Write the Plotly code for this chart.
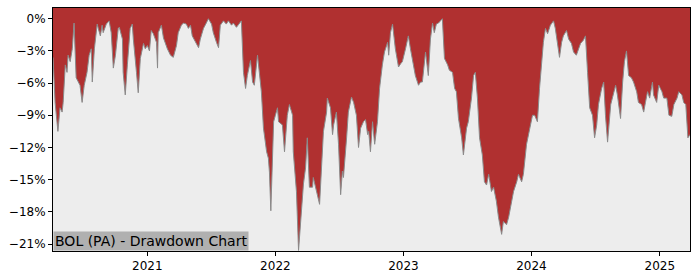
import plotly.graph_objects as go

dates = [
    "2020-04-07","2020-04-13","2020-04-21","2020-04-27","2020-05-03","2020-05-06","2020-05-12","2020-05-17",
    "2020-05-20","2020-05-26","2020-06-01","2020-06-06","2020-06-12","2020-06-18","2020-06-23","2020-06-29",
    "2020-07-05","2020-07-13","2020-07-19","2020-07-25","2020-07-28","2020-08-03","2020-08-11","2020-08-14",
    "2020-08-20","2020-08-25","2020-08-28","2020-09-06","2020-09-14","2020-09-20","2020-09-26","2020-10-02",
    "2020-10-10","2020-10-13","2020-10-22","2020-10-24","2020-10-30","2020-11-05","2020-11-13","2020-11-19",
    "2020-11-22","2020-12-01","2020-12-06","2020-12-12","2020-12-21","2020-12-26",
    "2021-01-01","2021-01-07","2021-01-12","2021-01-18","2021-01-27","2021-01-30","2021-02-01","2021-02-10",
    "2021-02-16","2021-02-27","2021-03-08","2021-03-16","2021-03-25","2021-03-30","2021-04-08","2021-04-14",
    "2021-04-22","2021-04-28","2021-05-04","2021-05-09","2021-05-18","2021-05-27","2021-06-01","2021-06-10",
    "2021-06-18","2021-06-24","2021-07-03","2021-07-08","2021-07-17","2021-07-23","2021-07-28","2021-08-06",
    "2021-08-14","2021-08-20","2021-08-29","2021-09-03","2021-09-12","2021-09-18","2021-09-26","2021-10-02",
    "2021-10-08","2021-10-13","2021-10-22","2021-10-28","2021-11-02","2021-11-11","2021-11-17","2021-11-22",
    "2021-11-28","2021-12-07","2021-12-12","2021-12-15","2021-12-19","2021-12-24","2021-12-27",
    "2022-01-01","2022-01-07","2022-01-10","2022-01-21","2022-01-27","2022-02-04","2022-02-10","2022-02-19",
    "2022-02-21","2022-03-02","2022-03-08","2022-03-16","2022-03-22","2022-03-28","2022-04-02","2022-04-08",
    "2022-04-17","2022-04-19","2022-04-28","2022-05-07","2022-05-12","2022-05-18","2022-05-27","2022-05-29",
    "2022-06-07","2022-06-13","2022-06-16","2022-06-24","2022-06-30","2022-07-06","2022-07-11","2022-07-14",
    "2022-07-23","2022-07-28","2022-08-06","2022-08-12","2022-08-20","2022-08-26","2022-09-01","2022-09-09",
    "2022-09-15","2022-09-21","2022-09-24","2022-09-29","2022-10-05","2022-10-11","2022-10-19","2022-10-25",
    "2022-11-02","2022-11-08","2022-11-17","2022-11-20","2022-11-25","2022-12-01","2022-12-09","2022-12-18",
    "2022-12-24","2022-12-29",
    "2023-01-07","2023-01-15","2023-01-21","2023-01-27","2023-02-04","2023-02-13","2023-02-19","2023-02-24",
    "2023-03-05","2023-03-13","2023-03-19","2023-03-25","2023-03-30","2023-04-05","2023-04-11","2023-04-22",
    "2023-04-28","2023-05-07","2023-05-12","2023-05-21","2023-05-27","2023-06-01","2023-06-07","2023-06-16",
    "2023-06-21","2023-06-30","2023-07-05","2023-07-14","2023-07-20","2023-07-25","2023-07-31","2023-08-06",
    "2023-08-14","2023-08-20","2023-08-26","2023-09-01","2023-09-09","2023-09-15","2023-09-23","2023-09-29",
    "2023-10-08","2023-10-13","2023-10-22","2023-10-28","2023-11-05","2023-11-11","2023-11-20","2023-11-25",
    "2023-12-04","2023-12-09","2023-12-18","2023-12-24","2023-12-29",
    "2024-01-04","2024-01-10","2024-01-18","2024-01-24","2024-01-30","2024-02-04","2024-02-10","2024-02-16",
    "2024-02-24","2024-03-04","2024-03-09","2024-03-15","2024-03-21","2024-03-27","2024-04-01","2024-04-10",
    "2024-04-16","2024-04-24","2024-04-30","2024-05-08","2024-05-14","2024-05-20","2024-05-28","2024-06-03",
    "2024-06-09","2024-06-15","2024-06-23","2024-06-29","2024-07-05","2024-07-10","2024-07-19","2024-07-25",
    "2024-07-30","2024-08-05","2024-08-14","2024-08-22","2024-08-28","2024-09-02","2024-09-11","2024-09-17",
    "2024-09-22","2024-09-28","2024-10-04","2024-10-12","2024-10-18","2024-10-27","2024-11-01","2024-11-10",
    "2024-11-16","2024-11-21","2024-11-27","2024-12-03","2024-12-11","2024-12-14","2024-12-23","2024-12-29",
    "2025-01-07","2025-01-12","2025-01-21","2025-01-27","2025-02-04","2025-02-10","2025-02-19","2025-02-24",
    "2025-03-05","2025-03-10","2025-03-16","2025-03-22","2025-03-28",
]

drawdown = [
    -3.6,-7.8,-10.5,-8.3,-8.7,-7.8,-4.3,-5.0,
    -3.4,-4.0,-2.8,-0.4,-5.5,-5.9,-6.2,-7.8,
    -6.2,-5.0,-3.4,-2.8,-5.9,-2.8,-0.5,-0.9,
    -1.6,-0.6,-1.3,-0.5,-0.2,-1.3,-4.6,-3.4,
    -0.9,-0.8,-1.9,-5.0,-7.1,-4.3,-0.9,-0.5,
    -1.9,-5.0,-6.9,-3.7,-2.3,-2.8,
    -2.5,-3.0,-1.1,-1.4,-2.2,-4.6,-1.3,-0.6,
    -1.8,-2.8,-3.4,-3.6,-2.5,-1.3,-0.6,-0.4,
    -0.5,-0.9,-0.6,-1.6,-2.2,-2.7,-1.9,-0.9,
    -0.4,0.0,-0.5,-1.3,-2.2,-2.7,-0.6,-0.2,
    -0.5,-0.2,-0.6,-0.4,-0.8,-0.5,-0.2,-5.0,
    -6.5,-5.3,-3.9,-5.9,-6.2,-3.4,-5.0,-6.8,
    -10.2,-12.4,-13.0,-14.3,-17.9,-11.3,-9.6,
    -9.0,-8.3,-9.6,-9.9,-12.4,-9.0,-8.0,-9.0,
    -12.4,-16.1,-21.6,-17.9,-15.4,-13.9,-11.1,-15.7,
    -15.7,-14.8,-16.1,-17.3,-14.2,-10.5,-8.7,-7.4,
    -8.3,-10.8,-9.9,-8.7,-11.7,-16.4,-14.2,-14.8,
    -11.1,-8.7,-7.3,-7.8,-9.0,-12.0,-10.2,-9.6,
    -9.4,-10.8,-10.5,-12.4,-9.6,-11.7,-9.6,-6.5,
    -4.3,-3.1,-2.2,-3.4,-1.3,-0.5,-2.8,-4.5,
    -4.2,-4.0,
    -2.8,-1.6,-2.8,-4.0,-5.3,-6.2,-5.9,-5.9,
    -3.1,-5.3,-1.9,-0.4,-1.3,-0.5,-0.4,0.0,
    -3.7,-4.3,-4.8,-5.0,-6.5,-6.8,-9.3,-11.1,
    -12.7,-10.2,-9.6,-7.4,-5.3,-5.0,-7.4,-11.1,
    -12.7,-15.2,-15.5,-14.5,-16.1,-15.7,-17.0,-18.5,
    -20.1,-18.9,-19.2,-18.5,-17.0,-16.1,-15.2,-14.5,
    -15.2,-14.5,-11.7,-10.8,-10.2,
    -9.0,-9.0,-9.6,-6.5,-3.7,-2.2,-0.9,-1.4,
    -0.6,-0.2,-0.9,-2.2,-3.6,-2.2,-1.6,-1.1,
    -1.9,-2.3,-3.1,-3.4,-2.8,-2.3,-2.0,-1.6,
    -5.0,-8.3,-9.0,-11.1,-9.9,-8.0,-6.5,-5.9,
    -9.0,-11.5,-8.0,-7.1,-6.2,-7.1,-9.3,-5.9,
    -4.0,-3.0,-5.3,-5.5,-5.9,-6.8,-7.8,-8.0,
    -8.7,-7.8,-6.8,-7.4,-5.9,-7.1,-7.8,-6.2,
    -6.8,-7.4,-7.4,-9.0,-9.1,-8.0,-7.4,-6.8,
    -7.1,-7.8,-8.0,-11.1,-10.8,
]

y_ticks = [0, -3, -6, -9, -12, -15, -18, -21]
y_tick_labels = ["0%", "\u22123%", "\u22126%", "\u22129%", "\u221212%", "\u221215%", "\u221218%", "\u221221%"]
x_ticks = ["2021-01-01", "2022-01-01", "2023-01-01", "2024-01-01", "2025-01-01"]
x_tick_labels = ["2021", "2022", "2023", "2024", "2025"]
title_text = "BOL (PA) - Drawdown Chart"

y_range = [-21.65, 1.0]
x_range = ["2020-04-07", "2025-03-28"]

fig = go.Figure()
# invisible boundary at the top of the plotting area so the red fill reaches the frame
fig.add_trace(go.Scatter(
    x=dates, y=[y_range[1]] * len(dates), mode="lines",
    line=dict(color="rgba(0,0,0,0)", width=0),
    hoverinfo="skip", showlegend=False,
))
fig.add_trace(go.Scatter(
    x=dates, y=drawdown, mode="lines", fill="tonexty",
    fillcolor="#b03030", line=dict(color="#8a8a8a", width=1),
    hoverinfo="skip", showlegend=False,
))

fig.update_layout(
    width=700, height=280,
    margin=dict(l=53, r=10, t=7, b=28),
    paper_bgcolor="white", plot_bgcolor="#ededed",
    font=dict(family="DejaVu Sans", size=12, color="black"),
    xaxis=dict(
        range=x_range, tickvals=x_ticks, ticktext=x_tick_labels,
        showgrid=False, zeroline=False, showline=True, linecolor="black", linewidth=1,
        mirror=True, ticks="outside", ticklen=4, tickcolor="black",
    ),
    yaxis=dict(
        range=y_range, tickvals=y_ticks, ticktext=y_tick_labels,
        showgrid=False, zeroline=False, showline=True, linecolor="black", linewidth=1,
        mirror=True, ticks="outside", ticklen=4, tickcolor="black",
    ),
    annotations=[dict(
        text=title_text, xref="paper", yref="paper", x=0, y=0,
        xanchor="left", yanchor="bottom", showarrow=False,
        bgcolor="#b0b0b0", font=dict(family="DejaVu Sans", size=14, color="black"),
        borderpad=1,
    )],
)

fig.write_html("out.html")
